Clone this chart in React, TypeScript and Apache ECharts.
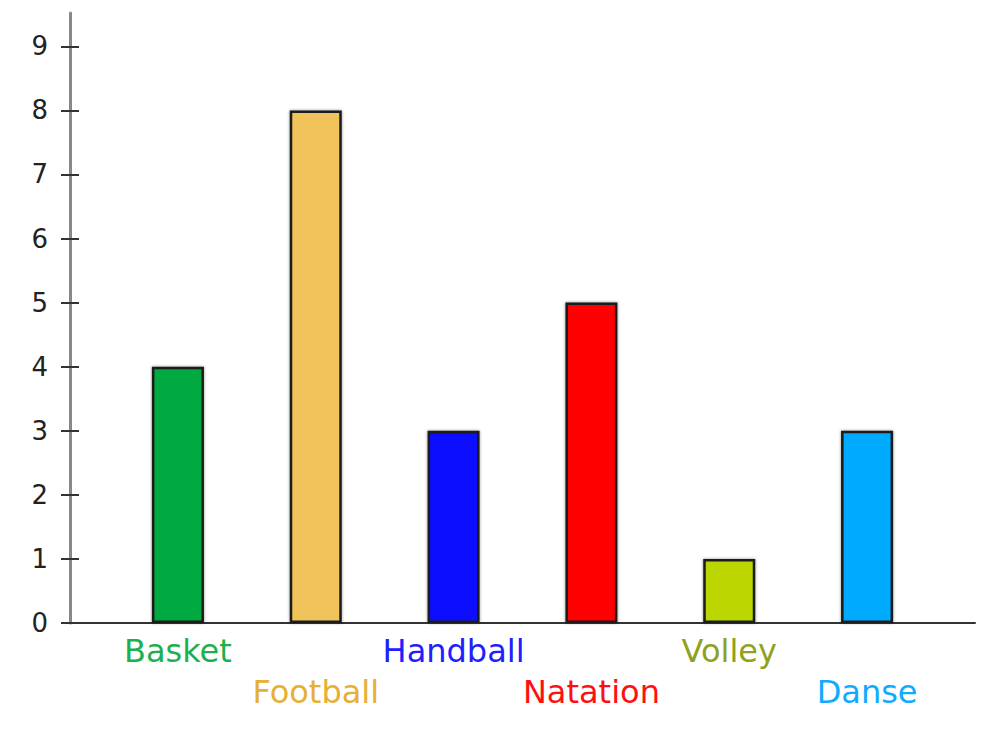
import React, { useEffect, useRef } from "react";
import * as echarts from "echarts";

const categories = ["Basket", "Football", "Handball", "Natation", "Volley", "Danse"];
const values = [4, 8, 3, 5, 1, 3];
const barColors = ["#00AA3F", "#F0C45A", "#0A0AFF", "#FF0000", "#BBD600", "#00AAFF"];
const labelColors = ["#1DB04F", "#E6B034", "#2020FF", "#FF1010", "#8FA21E", "#10AAFF"];
const yTicks = [0, 1, 2, 3, 4, 5, 6, 7, 8, 9];

export default function App() {
  const ref = useRef<HTMLDivElement>(null);
  useEffect(() => {
    if (!ref.current) return;
    const chart = echarts.init(ref.current, null, { renderer: "svg" });
    const font = "DejaVu Sans";
    const yMax = 9.52;
    chart.setOption({
      animation: false,
      backgroundColor: "#ffffff",
      grid: [
        { left: 70, right: 28, top: 13, bottom: 106 },
        { left: 109, width: 827, top: 13, bottom: 106 },
      ],
      xAxis: [
        {
          gridIndex: 0,
          type: "value",
          min: 0,
          max: 1,
          axisLine: { show: true, onZero: false, lineStyle: { color: "#333", width: 2 } },
          axisTick: { show: false },
          axisLabel: { show: false },
          splitLine: { show: false },
        },
        {
          gridIndex: 1,
          type: "category",
          data: categories.map((c, i) => ({
            value: c,
            textStyle: { color: labelColors[i] },
          })),
          axisLine: { show: false },
          axisTick: { show: false },
          axisLabel: {
            interval: 0,
            margin: 7,
            fontFamily: font,
            fontSize: 32,
            lineHeight: 41,
            formatter: (v: string) => {
              const i = categories.indexOf(v);
              return i % 2 === 1 ? "\n" + v : v;
            },
          },
        },
      ],
      yAxis: [
        {
          gridIndex: 0,
          type: "value",
          position: "left",
          min: 0,
          max: yMax,
          interval: 1,
          axisLine: { show: true, lineStyle: { color: "#888", width: 3 } },
          axisTick: {
            show: true,
            length: 9,
            customValues: yTicks,
            lineStyle: { color: "#333", width: 2 },
          },
          axisLabel: {
            customValues: yTicks,
            margin: 22,
            fontFamily: font,
            fontSize: 26,
            color: "#222",
          },
          splitLine: { show: false },
        },
        {
          gridIndex: 0,
          type: "value",
          position: "left",
          offset: 0,
          min: 0,
          max: yMax,
          interval: 1,
          axisLine: { show: false },
          axisTick: {
            show: true,
            inside: true,
            length: 9,
            customValues: yTicks,
            lineStyle: { color: "#333", width: 2 },
          },
          axisLabel: { show: false },
          splitLine: { show: false },
        },
        {
          gridIndex: 1,
          type: "value",
          min: 0,
          max: yMax,
          show: false,
          splitLine: { show: false },
        },
      ],
      series: [
        {
          type: "bar",
          xAxisIndex: 1,
          yAxisIndex: 2,
          barWidth: 52,
          data: values.map((v, i) => ({
            value: v,
            itemStyle: { color: barColors[i] },
          })),
          itemStyle: {
            borderColor: "#1a1a1a",
            borderWidth: 2.5,
            shadowColor: "rgba(0,0,0,0.45)",
            shadowBlur: 3,
          },
        },
      ],
    });
    return () => chart.dispose();
  }, []);
  return (
    <div
      ref={ref}
      style={{ position: "fixed", left: 0, top: 0, width: 1003, height: 729 }}
    />
  );
}
